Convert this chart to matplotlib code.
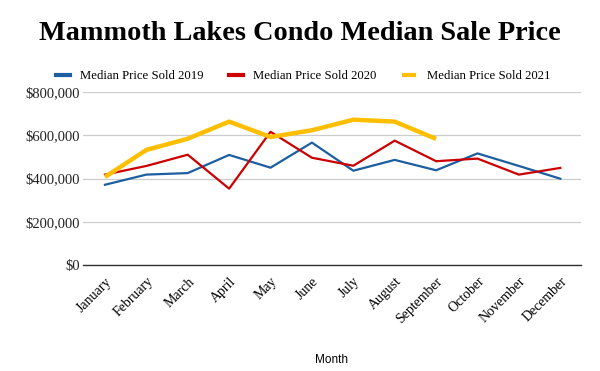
import matplotlib
matplotlib.use("Agg")
import matplotlib.pyplot as plt
from matplotlib.ticker import FuncFormatter

# -------- dados --------
meses = ["January", "February", "March", "April", "May", "June", "July",
         "August", "September", "October", "November", "December"]
preco_2019 = [371000, 418000, 425000, 509000, 450000, 566000, 436000,
              486000, 438000, 516000, 458000, 399000]
preco_2020 = [418000, 458000, 510000, 353000, 616000, 496000, 459000,
              575000, 480000, 492000, 418000, 449000]
preco_2021 = [407000, 532000, 584000, 663000, 592000, 623000, 672000,
              663000, 583000]
y_ticks = [0, 200000, 400000, 600000, 800000]

serif = "Liberation Serif"

fig = plt.figure(figsize=(6, 3.71), dpi=100)
ax = fig.add_axes([83 / 600, 1 - 265 / 371, 498 / 600, 173 / 371])

x = list(range(len(meses)))
ax.plot(x, preco_2019, color="#1c5ea0", lw=1.6, label="Median Price Sold 2019")
ax.plot(x, preco_2020, color="#cc0000", lw=1.6, label="Median Price Sold 2020")
ax.plot(x[:len(preco_2021)], preco_2021, color="#ffbf00", lw=3.2,
        label="Median Price Sold 2021", solid_capstyle="butt")

ax.set_xlim(-0.53, 11.5)
ax.set_ylim(0, 800000)
ax.set_yticks(y_ticks)
ax.yaxis.set_major_formatter(FuncFormatter(lambda v, p: f"${v:,.0f}"))
ax.set_xticks(x)
ax.set_xticklabels(meses, rotation=45, ha="right", rotation_mode="anchor",
                   fontfamily=serif, fontsize=10)
for t in ax.get_yticklabels():
    t.set_fontfamily(serif)
    t.set_fontsize(10.5)
    t.set_color("#222222")

ax.grid(axis="y", color="#cccccc", lw=0.9)
ax.set_axisbelow(True)
for s in ["top", "right", "left"]:
    ax.spines[s].set_visible(False)
ax.spines["bottom"].set_color("#333333")
ax.spines["bottom"].set_linewidth(1.0)
ax.tick_params(length=0, pad=2)
ax.tick_params(axis="x", pad=7)

ax.set_xlabel("Month", fontfamily="Liberation Sans", fontsize=8.5, labelpad=20)

fig.text(0.5, 1 - 33 / 371, "Mammoth Lakes Condo Median Sale Price", ha="center",
         va="center", fontfamily=serif, fontweight="bold", fontsize=20.3)

leg = fig.legend(loc="center", bbox_to_anchor=(0.505, 1 - 76 / 371), ncol=3,
                 frameon=False, prop={"family": serif, "size": 9.2},
                 handlelength=1.1, handletextpad=0.8, columnspacing=2.0)
for linha in leg.get_lines():
    linha.set_linewidth(3)

fig.savefig("out.png", dpi=100)
